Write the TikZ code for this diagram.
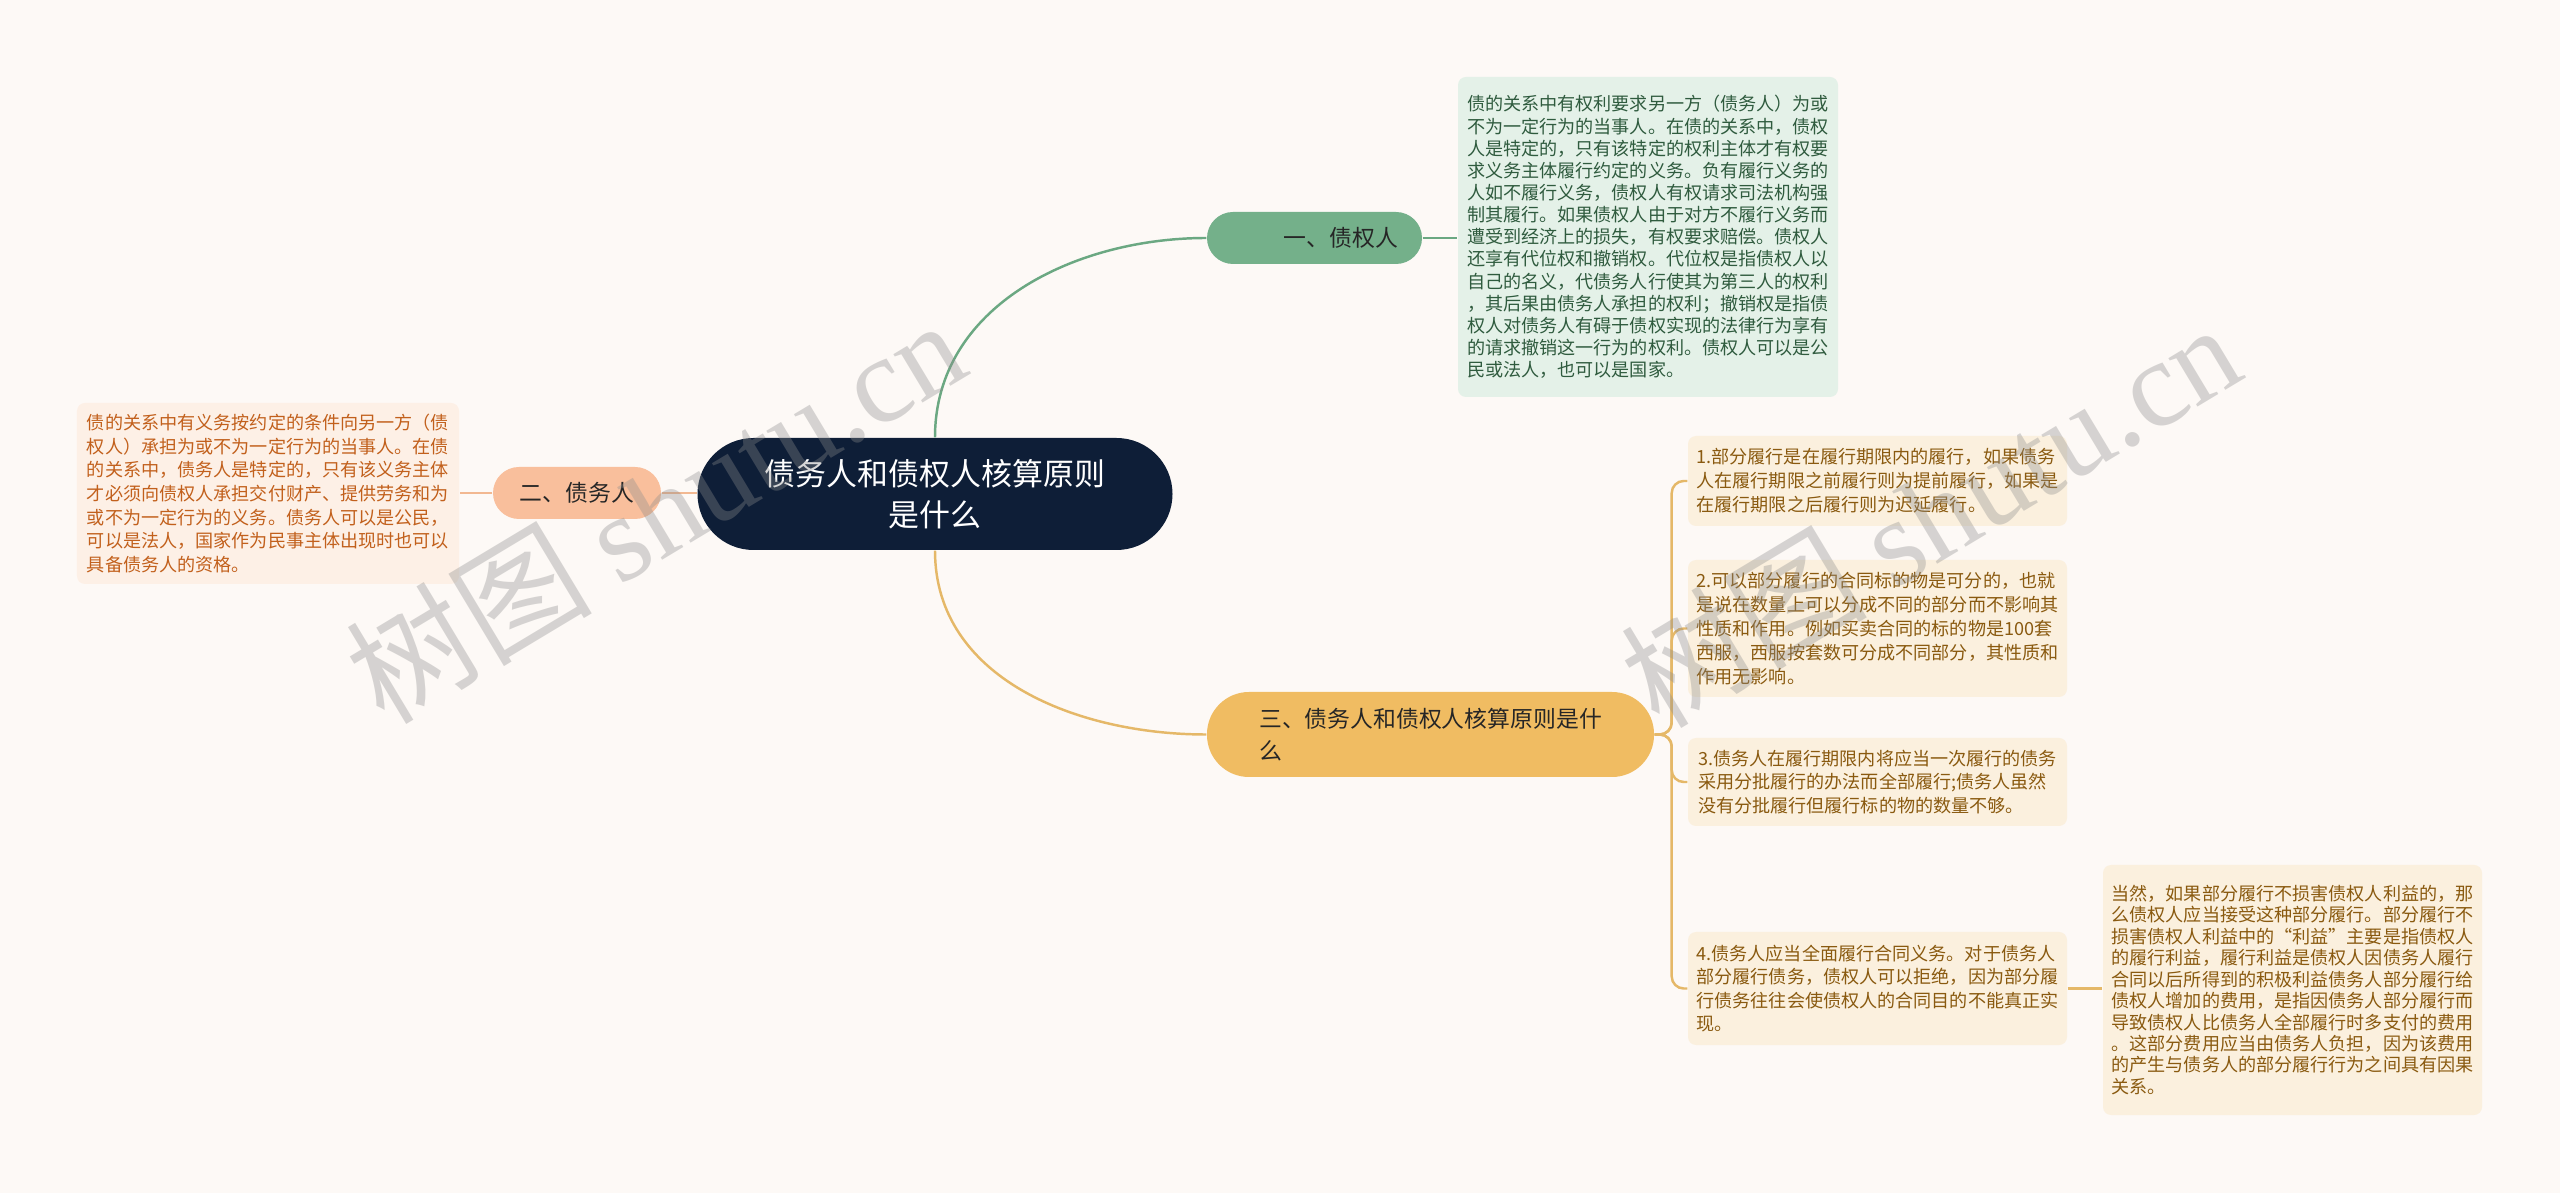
\documentclass[tikz,border=0pt]{standalone}
\usepackage{fontspec}
\setmainfont{Noto Sans CJK SC}
\newfontfamily\wmserif{Liberation Serif}
\usetikzlibrary{positioning}

\definecolor{bgcream}{HTML}{FDF9F6}
\definecolor{rootblue}{HTML}{0E1E37}
\definecolor{topgreen}{HTML}{74B08A}
\definecolor{linegreen}{HTML}{6BA882}
\definecolor{notegreenbg}{HTML}{E4F1E8}
\definecolor{notegreentx}{HTML}{2F5B3E}
\definecolor{topsalmon}{HTML}{F9BF9C}
\definecolor{linesalmon}{HTML}{F2B891}
\definecolor{notesalmonbg}{HTML}{FDF0E6}
\definecolor{notesalmontx}{HTML}{C2601C}
\definecolor{topgold}{HTML}{F0BC62}
\definecolor{linegold}{HTML}{E5B868}
\definecolor{notegoldbg}{HTML}{FBF0DE}
\definecolor{notegoldtx}{HTML}{8A5A10}

\tikzset{
    rootnode/.style={fill=rootblue, text=white, rounded corners=0.56cm,
        minimum width=4.75cm, minimum height=1.12cm, align=center,
        font=\fontsize{8.8}{11.6}\selectfont},
    topic/.style={rounded corners=0.26cm, minimum height=0.52cm,
        text=black!85, font=\fontsize{6.5}{9.3}\selectfont},
    note/.style={rounded corners=0.08cm, align=left, inner sep=0pt},
    notefont/.style={font=\fontsize{5.15}{#1}\selectfont},
    lgreen/.style={draw=linegreen, line width=0.7pt},
    lsalmon/.style={draw=linesalmon, line width=0.7pt},
    lgold/.style={draw=linegold, line width=0.7pt},
    wmark/.style={text=black!45, opacity=0.35, rotate=31,
        font=\fontsize{35}{35}\selectfont}
}

\begin{document}
\begin{tikzpicture}
    \useasboundingbox[fill=bgcream] (0,0) rectangle (25.6,-11.93);

    \coordinate (Croot) at ( 9.35 , -4.94);
    \coordinate (Cyi)   at (13.145, -2.38);
    \coordinate (Cer)   at ( 5.77 , -4.93);
    \coordinate (Csan)  at (14.305, -7.345);

    % root and main topics
    \node[rootnode] (root) at (Croot) {债务人和债权人核算原则\\是什么};
    \node[topic, fill=topgreen, minimum width=2.15cm, text width=1.67cm,
        align=right, inner xsep=0.24cm] (yi) at (Cyi) {一、债权人};
    \node[topic, fill=topsalmon, minimum width=1.68cm] (er) at (Cer) {二、债务人};
    \node[topic, fill=topgold, minimum width=4.47cm, minimum height=0.85cm,
        rounded corners=0.42cm, align=left] (san) at (Csan)
        {三、债务人和债权人核算原则是什\\么};

    % notes
    \node[note, fill=notegreenbg, text=notegreentx, notefont=6.3,
        minimum width=3.80cm, minimum height=3.20cm] (yinote) at (16.48, -2.37)
        {债的关系中有权利要求另一方（债务人）为或\\
         不为一定行为的当事人。在债的关系中，债权\\
         人是特定的，只有该特定的权利主体才有权要\\
         求义务主体履行约定的义务。负有履行义务的\\
         人如不履行义务，债权人有权请求司法机构强\\
         制其履行。如果债权人由于对方不履行义务而\\
         遭受到经济上的损失，有权要求赔偿。债权人\\
         还享有代位权和撤销权。代位权是指债权人以\\
         自己的名义，代债务人行使其为第三人的权利\\
         ，其后果由债务人承担的权利；撤销权是指债\\
         权人对债务人有碍于债权实现的法律行为享有\\
         的请求撤销这一行为的权利。债权人可以是公\\
         民或法人，也可以是国家。};

    \node[note, fill=notesalmonbg, text=notesalmontx, notefont=6.7,
        minimum width=3.82cm, minimum height=1.81cm] (ernote) at (2.68, -4.935)
        {债的关系中有义务按约定的条件向另一方（债\\
         权人）承担为或不为一定行为的当事人。在债\\
         的关系中，债务人是特定的，只有该义务主体\\
         才必须向债权人承担交付财产、提供劳务和为\\
         或不为一定行为的义务。债务人可以是公民，\\
         可以是法人，国家作为民事主体出现时也可以\\
         具备债务人的资格。};

    \node[note, fill=notegoldbg, text=notegoldtx, notefont=6.8,
        minimum width=3.79cm, minimum height=0.90cm] (pone) at (18.775, -4.81)
        {1.部分履行是在履行期限内的履行，如果债务\\
         人在履行期限之前履行则为提前履行，如果是\\
         在履行期限之后履行则为迟延履行。};
    \node[note, fill=notegoldbg, text=notegoldtx, notefont=6.8,
        minimum width=3.79cm, minimum height=1.37cm] (ptwo) at (18.775, -6.285)
        {2.可以部分履行的合同标的物是可分的，也就\\
         是说在数量上可以分成不同的部分而不影响其\\
         性质和作用。例如买卖合同的标的物是100套\\
         西服，西服按套数可分成不同部分，其性质和\\
         作用无影响。};
    \node[note, fill=notegoldbg, text=notegoldtx, notefont=6.8,
        minimum width=3.79cm, minimum height=0.88cm] (pthree) at (18.775, -7.82)
        {3.债务人在履行期限内将应当一次履行的债务\\
         采用分批履行的办法而全部履行;债务人虽然\\
         没有分批履行但履行标的物的数量不够。};
    \node[note, fill=notegoldbg, text=notegoldtx, notefont=6.7,
        minimum width=3.79cm, minimum height=1.13cm] (pfour) at (18.775, -9.885)
        {4.债务人应当全面履行合同义务。对于债务人\\
         部分履行债务，债权人可以拒绝，因为部分履\\
         行债务往往会使债权人的合同目的不能真正实\\
         现。};
    \node[note, fill=notegoldbg, text=notegoldtx, notefont=6.1,
        minimum width=3.79cm, minimum height=2.50cm] (pfive) at (22.925, -9.90)
        {当然，如果部分履行不损害债权人利益的，那\\
         么债权人应当接受这种部分履行。部分履行不\\
         损害债权人利益中的“利益”主要是指债权人\\
         的履行利益，履行利益是债权人因债务人履行\\
         合同以后所得到的积极利益债务人部分履行给\\
         债权人增加的费用，是指因债务人部分履行而\\
         导致债权人比债务人全部履行时多支付的费用\\
         。这部分费用应当由债务人负担，因为该费用\\
         的产生与债务人的部分履行行为之间具有因果\\
         关系。};

    % connectors
    \draw[lgreen] (root.north) to[out=90, in=180] (yi.west);
    \draw[lgreen] (yi.east) -- (yinote.west |- yi.east);
    \draw[lsalmon] (root.west |- er.east) -- (er.east);
    \draw[lsalmon] (er.west) -- (ernote.east |- er.west);
    \draw[lgold] (root.south) to[out=-90, in=180] (san.west);
    \foreach \kid in {pone, ptwo, pthree, pfour}
        \draw[lgold, rounded corners=0.12cm]
            (san.east) -- ++(0.17,0) |- (\kid.west);
    \draw[lgold] (pfour.east) -- (pfive.west |- pfour.east);

    % watermark
    \node[wmark] (wmone) at (6.55, -5.10) {树图 {\wmserif shutu.cn}};
    \node[wmark] (wmtwo) at (19.30, -5.14) {树图 {\wmserif shutu.cn}};
\end{tikzpicture}
\end{document}
